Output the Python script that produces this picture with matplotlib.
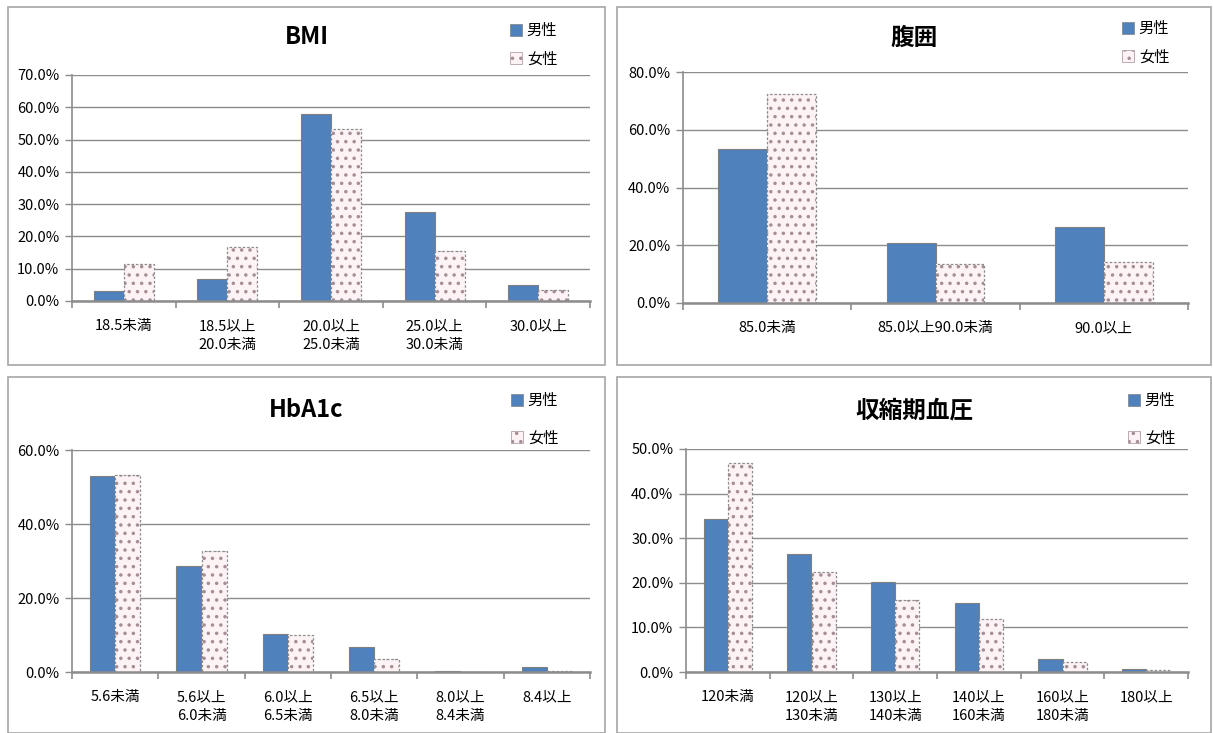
import matplotlib
matplotlib.use("Agg")
import matplotlib.pyplot as plt
from matplotlib.patches import Rectangle, Patch
from matplotlib.ticker import FuncFormatter, FixedLocator
import numpy as np

plt.rcParams['font.family'] = ['Noto Sans CJK JP', 'DejaVu Sans']
plt.rcParams['hatch.linewidth'] = 1.3

# ---- data ----
bmi_cats = ["18.5未満", "18.5以上\n20.0未満", "20.0以上\n25.0未満", "25.0以上\n30.0未満", "30.0以上"]
bmi_male = [3.2, 6.8, 58.0, 27.5, 5.0]
bmi_female = [11.5, 16.6, 53.2, 15.4, 3.5]

waist_cats = ["85.0未満", "85.0以上90.0未満", "90.0以上"]
waist_male = [53.4, 20.7, 26.3]
waist_female = [72.4, 13.5, 14.2]

hba_cats = ["5.6未満", "5.6以上\n6.0未満", "6.0以上\n6.5未満", "6.5以上\n8.0未満", "8.0以上\n8.4未満", "8.4以上"]
hba_male = [52.9, 28.6, 10.2, 6.8, 0.3, 1.3]
hba_female = [53.2, 32.6, 9.9, 3.5, 0.05, 0.3]

bp_cats = ["120未満", "120以上\n130未満", "130以上\n140未満", "140以上\n160未満", "160以上\n180未満", "180以上"]
bp_male = [34.4, 26.5, 20.2, 15.5, 2.9, 0.6]
bp_female = [46.9, 22.4, 16.1, 11.9, 2.2, 0.4]

titles = ["BMI", "腹囲", "HbA1c", "収縮期血圧"]
legend_labels = ["男性", "女性"]

W, H = 1213, 733
fig = plt.figure(figsize=(W / 100, H / 100), dpi=100)

MALE = "#4f81bd"
GRID = "#8c8c8c"
FEM_FACE = "#fdf3f4"
FEM_DOT = "#a58e98"

def px_axes(l, t, r, b):
    return fig.add_axes([l / W, 1 - b / H, (r - l) / W, (b - t) / H])

def panel_box(l, t, r, b):
    fig.add_artist(Rectangle((l / W, 1 - b / H), (r - l) / W, (b - t) / H,
                             transform=fig.transFigure, fill=False,
                             edgecolor="#a6a6a6", linewidth=1.2))

def draw(axpos, box, cats, male, female, ymax, ystep, title, title_y, leg_pos):
    panel_box(*box)
    ax = px_axes(*axpos)
    n = len(cats)
    x = np.arange(n)
    w = 0.29
    ax.bar(x - w / 2, male, width=w, color=MALE, edgecolor="#7f7f7f", linewidth=0.8, zorder=3)
    ax.bar(x + w / 2, female, width=w, color=FEM_FACE, edgecolor=FEM_DOT,
           hatch="..", linewidth=0, zorder=3)
    ax.bar(x + w / 2, female, width=w, fill=False, edgecolor="#8c8c8c",
           linestyle=(0, (2, 1.5)), linewidth=0.9, zorder=4)
    ax.set_xlim(-0.5, n - 0.5)
    ax.set_ylim(0, ymax)
    ax.yaxis.set_major_locator(FixedLocator(np.arange(0, ymax + 0.01, ystep)))
    ax.yaxis.set_major_formatter(FuncFormatter(lambda v, p: f"{v:.1f}%"))
    ax.grid(axis="y", color=GRID, linewidth=1.0, zorder=0)
    ax.set_axisbelow(True)
    ax.set_xticks(x)
    ax.set_xticklabels(cats, fontsize=10.5, linespacing=1.45)
    ax.set_xticks(np.arange(-0.5, n, 1.0), minor=True)
    ax.tick_params(axis="x", which="major", length=0, pad=13)
    ax.tick_params(axis="x", which="minor", length=5, color=GRID, width=1.2, direction="out")
    ax.tick_params(axis="y", length=5, color=GRID, width=1.0, labelsize=10.5, pad=4)
    for s in ["top", "right"]:
        ax.spines[s].set_visible(False)
    ax.spines["left"].set_color(GRID)
    ax.spines["left"].set_linewidth(1.2)
    ax.spines["bottom"].set_color(GRID)
    ax.spines["bottom"].set_linewidth(1.8)
    ax.spines["bottom"].set_zorder(5)
    l, t, r, b = box
    fig.text(((l + r) / 2) / W, 1 - title_y / H, title, ha="center", va="center",
             fontsize=17, fontweight="bold")
    handles = [Patch(facecolor=MALE, edgecolor="#7f7f7f", linewidth=0.5),
               Patch(facecolor=FEM_FACE, edgecolor=FEM_DOT, hatch="..", linewidth=0.5)]
    lx, ly, gap = leg_pos
    fig.legend(handles, legend_labels, loc="upper left",
               bbox_to_anchor=(lx / W, 1 - ly / H), frameon=False,
               fontsize=11, handlelength=0.8, handleheight=0.8, handletextpad=0.3,
               labelspacing=gap, borderpad=0, borderaxespad=0)
    return ax

draw((72, 75, 590, 301), (8, 7, 605, 365), bmi_cats, bmi_male, bmi_female, 70, 10,
     titles[0], 37, (510, 22, 0.75))
draw((683, 72, 1188, 303), (617, 7, 1211, 365), waist_cats, waist_male, waist_female, 80, 20,
     titles[1], 38, (1122, 20, 0.75))
draw((72, 450, 590, 672), (8, 377, 605, 733), hba_cats, hba_male, hba_female, 60, 20,
     titles[2], 410, (511, 392, 1.35))
draw((686, 449, 1188, 672), (617, 377, 1211, 733), bp_cats, bp_male, bp_female, 50, 10,
     titles[3], 410, (1128, 392, 1.35))

fig.savefig("out.png", dpi=100)
